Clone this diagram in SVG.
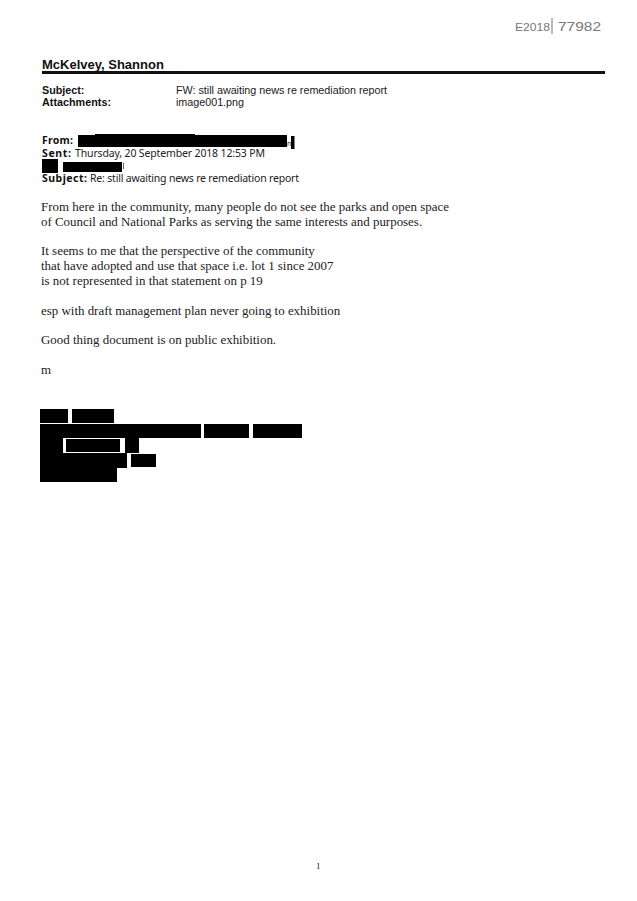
<svg xmlns="http://www.w3.org/2000/svg" width="637" height="901" viewBox="0 0 637 901">
<style>
.s{font-family:"Liberation Sans",Arial,sans-serif;fill:#1a1a1a}
.n{font-family:"Noto Sans","Liberation Sans",sans-serif;fill:#222;font-size:10.5px}
.b{font-weight:bold;fill:#111}
.t{font-family:"Liberation Serif","Times New Roman",serif;font-size:12.93px;fill:#222}
.h{font-size:10.75px}
.r{fill:#000}
.p{font-family:"Liberation Sans",Arial,sans-serif;fill:#777}
</style>
<rect width="637" height="901" fill="#fff"/>
<g id="stamp"><text class="p" x="515" y="31" font-size="10.5" textLength="35" lengthAdjust="spacingAndGlyphs">E2018</text><path d="M552 18V34" stroke="#777" fill="none"/><text class="p" x="558" y="31" font-size="13" textLength="43" lengthAdjust="spacingAndGlyphs">77982</text></g>
<g id="header">
<text class="s b" x="42" y="69" font-size="13">McKelvey, Shannon</text>
<rect x="42" y="71" width="563" height="3" fill="#111"/>
<text class="s b h" x="42" y="94">Subject:</text>
<text class="s b h" x="42" y="106" textLength="69">Attachments:</text>
<text class="s h" x="176" y="94" textLength="211">FW: still awaiting news re remediation report</text>
<text class="s h" x="176" y="106" textLength="68">image001.png</text>
</g>
<g id="meta">
<text class="n b" x="42" y="144" textLength="31">From:</text>
<rect class="r" x="78" y="135" width="209" height="12"/>
<rect class="r" x="95" y="134" width="100" height="2"/>
<text class="n" x="287" y="146" style="font-size:7px">n</text>
<rect class="r" x="291" y="136" width="3.5" height="13"/>
<text class="n b" x="42" y="157" textLength="29">Sent:</text>
<text class="n" x="75" y="157" textLength="190">Thursday, 20 September 2018 12:53 PM</text>
<rect class="r" x="42" y="159" width="16" height="14"/>
<rect class="r" x="63" y="162" width="59" height="10"/>
<rect x="123" y="163" width="1" height="6" fill="#666"/>
<text class="n b" x="42" y="182" textLength="45">Subject:</text>
<text class="n" x="90" y="182" textLength="209">Re: still awaiting news re remediation report</text>
</g>
<g id="body">
<text class="t" x="41" y="211">From here in the community, many people do not see the parks and open space</text>
<text class="t" x="41" y="226">of Council and National Parks as serving the same interests and purposes.</text>
<text class="t" x="41" y="255">It seems to me that the perspective of the community</text>
<text class="t" x="41" y="270">that have adopted and use that space i.e. lot 1 since 2007</text>
<text class="t" x="41" y="285">is not represented in that statement on p 19</text>
<text class="t" x="41" y="315">esp with draft management plan never going to exhibition</text>
<text class="t" x="41" y="344">Good thing document is on public exhibition.</text>
<text class="t" x="41" y="374">m</text>
</g>
<g id="redactions">
<rect class="r" x="40" y="409" width="28" height="14"/>
<rect class="r" x="72" y="409" width="42" height="14"/>
<rect class="r" x="40" y="424" width="161" height="14"/>
<rect class="r" x="204" y="424" width="45" height="14"/>
<rect class="r" x="253" y="424" width="49" height="14"/>
<rect class="r" x="40" y="438" width="23" height="16"/>
<rect class="r" x="66" y="439" width="54" height="13"/>
<rect class="r" x="125" y="438" width="14" height="15"/>
<rect class="r" x="40" y="453" width="87" height="15"/>
<rect class="r" x="131" y="454" width="25" height="13"/>
<rect class="r" x="40" y="468" width="77" height="14"/>
</g>
<text class="t" x="316" y="869" style="font-size:9px">1</text>
</svg>
